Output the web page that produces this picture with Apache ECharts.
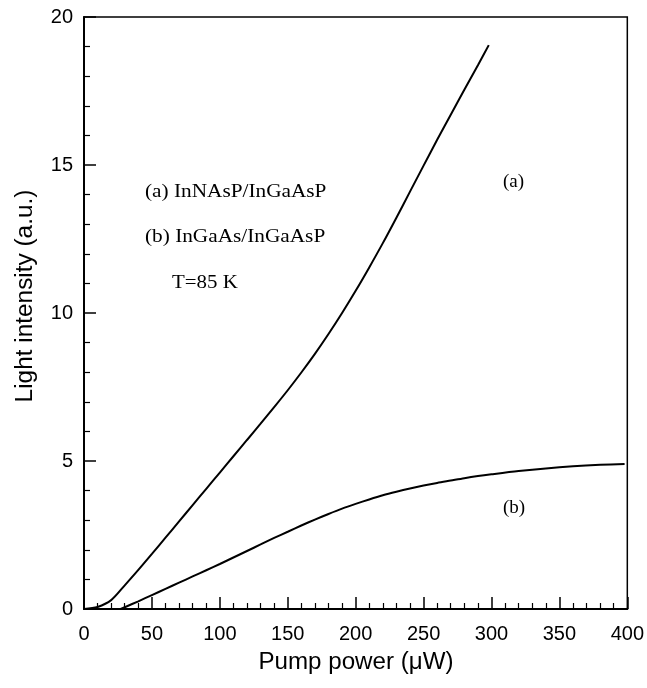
<!DOCTYPE html>
<html>
<head>
<meta charset="utf-8">
<script src="https://cdn.jsdelivr.net/npm/echarts@6/dist/echarts.min.js"></script>
<style>html,body{margin:0;padding:0;background:#fff;}#c{width:647px;height:688px;}</style>
</head>
<body>
<div id="c"></div>
<script>
// Curve (a) InNAsP/InGaAsP
const xA = [0, 10, 20, 30, 40, 50, 60, 70, 80, 90, 100, 110, 120, 130, 140, 150, 160, 170, 180, 190, 200, 210, 220, 230, 240, 250, 260, 270, 280, 290, 298];
const yA = [0, 0.07, 0.3, 0.8, 1.32, 1.86, 2.41, 2.96, 3.51, 4.06, 4.61, 5.16, 5.71, 6.26, 6.82, 7.39, 7.99, 8.62, 9.29, 10.0, 10.75, 11.54, 12.36, 13.22, 14.1, 14.98, 15.85, 16.7, 17.54, 18.37, 19.05];
// Curve (b) InGaAs/InGaAsP
const xB = [27, 30, 40, 50, 60, 70, 80, 90, 100, 110, 120, 130, 140, 150, 160, 170, 180, 190, 200, 210, 220, 230, 240, 250, 260, 270, 280, 290, 300, 320, 340, 360, 380, 398];
const yB = [0, 0.06, 0.26, 0.47, 0.68, 0.89, 1.1, 1.31, 1.52, 1.74, 1.96, 2.18, 2.4, 2.61, 2.82, 3.02, 3.21, 3.39, 3.55, 3.7, 3.84, 3.96, 4.07, 4.17, 4.26, 4.34, 4.42, 4.49, 4.55, 4.66, 4.75, 4.82, 4.87, 4.9];
const xTicks = [0, 50, 100, 150, 200, 250, 300, 350, 400];
const yTicks = [0, 5, 10, 15, 20];

const chart = echarts.init(document.getElementById('c'), null, {renderer: 'canvas'});
const sans = '"Liberation Sans", Arial, sans-serif';
const serif = '"Liberation Serif", "Times New Roman", serif';
const pairs = (xs, ys) => xs.map((x, i) => [x, ys[i]]);

chart.setOption({
  animation: false,
  backgroundColor: '#fff',
  grid: {left: 84, top: 17, right: 18, bottom: 79, show: true, borderColor: '#000', borderWidth: 1.5, backgroundColor: 'transparent'},
  xAxis: {
    type: 'value', min: xTicks[0], max: xTicks[xTicks.length - 1], interval: 50,
    axisLine: {show: true, lineStyle: {color: '#000', width: 2}},
    axisTick: {show: true, inside: true, length: 12, lineStyle: {color: '#000', width: 1.5}},
    minorTick: {show: true, splitNumber: 5, length: 6, lineStyle: {color: '#000', width: 1.2}},
    splitLine: {show: false},
    axisLabel: {color: '#000', fontFamily: sans, fontSize: 20, margin: 15}
  },
  yAxis: {
    type: 'value', min: yTicks[0], max: yTicks[yTicks.length - 1], interval: 5,
    axisLine: {show: true, lineStyle: {color: '#000', width: 2}},
    axisTick: {show: true, inside: true, length: 12, lineStyle: {color: '#000', width: 1.5}},
    minorTick: {show: true, splitNumber: 5, length: 6, lineStyle: {color: '#000', width: 1.2}},
    splitLine: {show: false},
    axisLabel: {color: '#000', fontFamily: sans, fontSize: 20, margin: 11}
  },
  series: [
    {type: 'line', data: pairs(xA, yA), showSymbol: false, smooth: 0.3, lineStyle: {color: '#000', width: 2}},
    {type: 'line', data: pairs(xB, yB), showSymbol: false, smooth: 0.3, lineStyle: {color: '#000', width: 2}}
  ],
  graphic: [
    {type: 'text', x: 356, y: 663, scaleX: 1.05, style: {text: 'Pump power (\u03bcW)', font: '23px ' + sans, fill: '#000', align: 'center', verticalAlign: 'middle'}},
    {type: 'text', x: 26, y: 296, rotation: Math.PI / 2, scaleX: 1.06, style: {text: 'Light intensity (a.u.)', font: '23px ' + sans, fill: '#000', align: 'center', verticalAlign: 'middle'}},
    {type: 'text', x: 145, y: 192, scaleX: 1.15, style: {text: '(a) InNAsP/InGaAsP', font: '18.5px ' + serif, fill: '#000', verticalAlign: 'middle'}},
    {type: 'text', x: 145, y: 237, scaleX: 1.15, style: {text: '(b) InGaAs/InGaAsP', font: '18.5px ' + serif, fill: '#000', verticalAlign: 'middle'}},
    {type: 'text', x: 172, y: 283, scaleX: 1.13, style: {text: 'T=85 K', font: '18.5px ' + serif, fill: '#000', verticalAlign: 'middle'}},
    {type: 'text', x: 503, y: 182, style: {text: '(a)', font: '19px ' + serif, fill: '#000', verticalAlign: 'middle'}},
    {type: 'text', x: 503, y: 508, style: {text: '(b)', font: '19px ' + serif, fill: '#000', verticalAlign: 'middle'}}
  ]
});
</script>
</body>
</html>
